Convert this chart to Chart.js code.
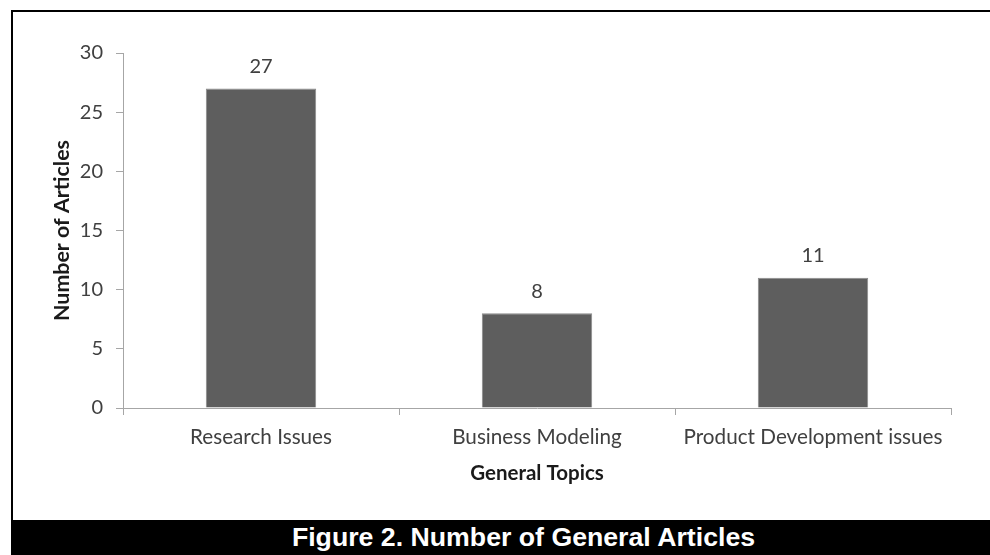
<!DOCTYPE html>
<html>
<head>
<meta charset="utf-8">
<script src="https://cdn.jsdelivr.net/npm/chart.js@4.4.1/dist/chart.umd.min.js"></script>
<style>
  html, body { margin: 0; padding: 0; background: #fff; }
  #frame {
    position: absolute; left: 11px; top: 10px; width: 990px; height: 560px;
    border-left: 2px solid #000; border-top: 2px solid #000; box-sizing: border-box;
  }
  #chartBox { position: absolute; left: 13px; top: 12px; width: 977px; height: 508px; }
  #caption {
    position: absolute; left: 11px; top: 520px; width: 979px; height: 35px;
    background: #000; color: #fff; overflow: hidden;
    text-align: center;
    font: bold 26.7px/35px "Liberation Sans", Arial, sans-serif;
    white-space: nowrap;
  }
  #caption span { position: relative; left: 23px; }
</style>
</head>
<body>
<div id="frame"></div>
<div id="chartBox"><canvas id="topicsChart"></canvas></div>
<div id="caption"><span>Figure 2. Number of General Articles</span></div>
<script>
// data
const topics = ['Research Issues', 'Business Modeling', 'Product Development issues'];
const articleCounts = [27, 8, 11];
const yTicks = [0, 5, 10, 15, 20, 25, 30];

const axisGray = '#a6a6a6';
const textGray = '#404040';

// writes the count above each bar
const barValueLabels = {
  id: 'barValueLabels',
  afterDatasetsDraw(chart) {
    const ctx = chart.ctx;
    const meta = chart.getDatasetMeta(0);
    ctx.save();
    ctx.font = '20px Lato, sans-serif';
    ctx.fillStyle = textGray;
    ctx.textAlign = 'center';
    ctx.textBaseline = 'bottom';
    meta.data.forEach((bar, i) => {
      ctx.fillText(String(articleCounts[i]), bar.x, bar.y - 12);
    });
    ctx.restore();
  }
};

const ctx = document.getElementById('topicsChart').getContext('2d');
new Chart(ctx, {
  type: 'bar',
  data: {
    labels: topics,
    datasets: [{
      data: articleCounts,
      backgroundColor: '#5e5e5e',
      borderColor: '#8a8a8a',
      borderWidth: 1,
      categoryPercentage: 1,
      barPercentage: 0.4
    }]
  },
  options: {
    responsive: true,
    maintainAspectRatio: false,
    animation: false,
    layout: { padding: { left: 0, right: 39, top: 41, bottom: 0 } },
    plugins: {
      legend: { display: false },
      tooltip: { enabled: false }
    },
    scales: {
      x: {
        grid: { offset: true, drawOnChartArea: false, drawTicks: true, tickLength: 7, color: axisGray },
        border: { color: axisGray, width: 1 },
        ticks: { color: textGray, font: { family: 'Lato', size: 20.7 }, padding: 10, maxRotation: 0 },
        title: {
          display: true, text: 'General Topics', color: '#1a1a1a',
          font: { family: 'Lato', size: 20.5, weight: 'bold' },
          padding: { top: 0, bottom: 34 }
        },
        afterFit(scale) { scale.height = 112; }
      },
      y: {
        min: 0,
        max: 30,
        afterBuildTicks(scale) { scale.ticks = yTicks.map(v => ({ value: v })); },
        grid: { drawOnChartArea: false, drawTicks: true, tickLength: 7, color: axisGray },
        border: { color: axisGray, width: 1 },
        ticks: { color: textGray, font: { family: 'Lato', size: 20 }, padding: 13 },
        title: {
          display: true, text: 'Number of Articles', color: '#1a1a1a',
          font: { family: 'Lato', size: 21.4, weight: 'bold' },
          padding: { top: 36, bottom: 0 }
        },
        afterFit(scale) { scale.width = 110; }
      }
    }
  },
  plugins: [barValueLabels]
});
</script>
</body>
</html>
